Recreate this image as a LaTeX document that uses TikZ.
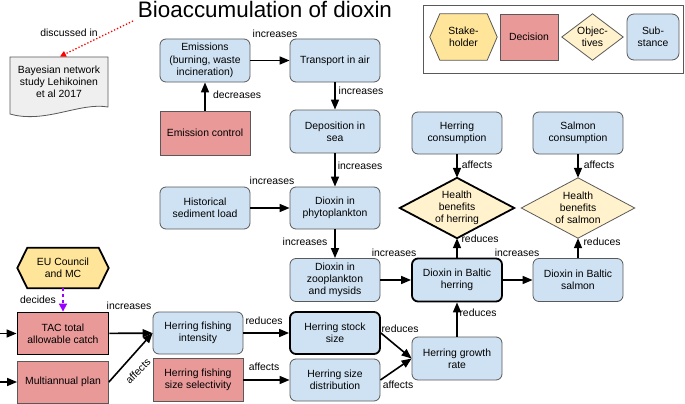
\documentclass[tikz,border=0pt]{standalone}
\usepackage{fontspec}
\setmainfont{Liberation Sans}
\usetikzlibrary{arrows.meta,backgrounds}
\definecolor{cSub}{HTML}{CFE2F3}
\definecolor{cDec}{HTML}{EA9999}
\definecolor{cStk}{HTML}{FFE599}
\definecolor{cObj}{HTML}{FFF2CC}
\definecolor{cDoc}{HTML}{EFEFEF}
\definecolor{cBord}{HTML}{595959}
\definecolor{cPurp}{HTML}{9900FF}
\tikzset{
  txt/.style={font=\fontsize{10.4}{12.2}\selectfont, align=center, text=black},
  lab/.style={txt, inner sep=0pt},
  base/.style={txt, minimum width=90pt, minimum height=43pt, inner sep=1pt},
  subbox/.style={base, draw=cBord, line width=0.8pt, fill=cSub, rounded corners=6pt},
  subthick/.style={subbox, draw=black, line width=1.8pt},
  decbox/.style={base, draw=cBord, line width=0.8pt, fill=cDec},
  decthick/.style={decbox, draw=black, line width=1.8pt},
  shapebox/.style={txt, inner sep=0pt},
  arr/.style={line width=1.6pt, -{Triangle[length=10pt,width=8pt]}},
  thinline/.style={draw=cBord, line width=0.8pt},
  thickline/.style={draw=black, line width=1.8pt},
}
\begin{document}
\begin{tikzpicture}[x=1pt,y=-1pt]
\useasboundingbox (0,0) rectangle (685,404);

% title
\node[txt, font=\fontsize{22.4}{24}\selectfont, anchor=base, inner sep=0pt] (title) at (265,17.5) {Bioaccumulation of dioxin};

% legend
\draw[draw=cBord, line width=0.8pt] (423,5) rectangle (683.5,73);
\node[shapebox, minimum width=67pt, minimum height=46pt] (lstk) at (463.5,37) {Stake-\\holder};
\node[decbox, minimum width=58pt, minimum height=46pt] (ldec) at (529,37) {Decision};
\node[shapebox, minimum width=61pt, minimum height=46pt] (lobj) at (592.5,37) {Objec-\\tives};
\node[subbox, minimum width=52pt, minimum height=46pt, rounded corners=7pt] (lsub) at (653,37) {Sub-\\stance};

% document
\node[shapebox, minimum width=98pt, minimum height=50pt] (doc) at (59,82) {Bayesian network\\study Lehikoinen\\et al 2017};

% substances and decisions
\node[subbox] (emis) at (205,60.5) {Emissions\\(burning, waste\\incineration)};
\node[subbox] (trans) at (335,60.5) {Transport in air};
\node[decbox, minimum height=44pt] (ctrl) at (205,133) {Emission control};
\node[subbox] (depo) at (335,131.5) {Deposition in\\sea};
\node[subbox, minimum height=42pt] (hist) at (205,208) {Historical\\sediment load};
\node[subbox, minimum height=42pt] (phyto) at (335,208) {Dioxin in\\phytoplankton};
\node[subbox] (zoo) at (335,280) {Dioxin in\\zooplankton\\and mysids};
\node[subthick] (herr) at (457,280) {Dioxin in Baltic\\herring};
\node[subbox] (salm) at (578,280) {Dioxin in Baltic\\salmon};
\node[subbox, minimum height=42pt] (hcons) at (457,133) {Herring\\consumption};
\node[subbox, minimum height=42pt] (scons) at (578,133) {Salmon\\consumption};
\node[shapebox, minimum width=114pt, minimum height=60pt] (hh) at (457,208) {Health\\benefits\\of herring};
\node[shapebox, minimum width=113pt, minimum height=60pt] (hs) at (578,208) {Health\\benefits\\of salmon};
\node[subbox] (growth) at (457,358.5) {Herring growth\\rate};
\node[subthick, minimum height=42pt] (stock) at (335,333) {Herring stock\\size};
\node[subbox, minimum height=42pt] (dist) at (335,380) {Herring size\\distribution};
\node[subbox, minimum height=42pt] (inten) at (198,333) {Herring fishing\\intensity};
\node[decbox] (sel) at (198,380) {Herring fishing\\size selectivity};
\node[decthick, minimum width=91pt, minimum height=42pt] (tac) at (63,333.5) {TAC total\\allowable catch};
\node[decbox, minimum width=91pt, minimum height=42pt] (multi) at (63,382) {Multiannual plan};
\node[shapebox, minimum width=91pt, minimum height=40pt] (eu) at (63,268) {EU Council\\and MC};

% custom outlines on background
\begin{scope}[on background layer]
  \filldraw[fill=cStk, thinline] (lstk.west) -- ([xshift=10pt]lstk.north west) -- ([xshift=-10pt]lstk.north east) -- (lstk.east) -- ([xshift=-10pt]lstk.south east) -- ([xshift=10pt]lstk.south west) -- cycle;
  \filldraw[fill=cObj, thinline] (lobj.north) -- (lobj.east) -- (lobj.south) -- (lobj.west) -- cycle;
  \filldraw[fill=cStk, thickline] (eu.west) -- ([xshift=10pt]eu.north west) -- ([xshift=-10pt]eu.north east) -- (eu.east) -- ([xshift=-10pt]eu.south east) -- ([xshift=10pt]eu.south west) -- cycle;
  \filldraw[fill=cObj, thickline] (hh.north) -- (hh.east) -- (hh.south) -- (hh.west) -- cycle;
  \filldraw[fill=cObj, thinline] (hs.north) -- (hs.east) -- (hs.south) -- (hs.west) -- cycle;
  \filldraw[fill=cDoc, thinline] (10,57) -- (108,57) -- (108,107) .. controls (80,102) and (45,124) .. (10,114) -- cycle;
\end{scope}

% free ends
\coordinate (src1) at (133,21);
\coordinate (in1) at (0,333.5);
\coordinate (in2) at (0,382);

% connectors
\draw[red, dotted, line width=1.3pt, -{Triangle[length=6pt,width=6pt]}] (src1) -- (60,56.5);
\draw[arr] (emis) -- (trans);
\draw[arr] (ctrl) -- (emis);
\draw[arr] (trans) -- (depo);
\draw[arr] (depo) -- (phyto);
\draw[arr] (hist) -- (phyto);
\draw[arr] (phyto) -- (zoo);
\draw[arr] (zoo) -- (herr);
\draw[arr] (herr) -- (salm);
\draw[arr] (herr) -- (hh.south);
\draw[arr] (salm) -- (hs.south);
\draw[arr] (hcons) -- (hh.north);
\draw[arr] (scons) -- (hs.north);
\draw[arr] (growth) -- (herr);
\draw[arr] (stock.east) -- (growth.west);
\draw[arr] (dist.east) -- (growth.west);
\draw[arr] (tac) -- (inten);
\draw[arr] (multi.east) -- (inten.west);
\draw[arr] (sel) -- (dist);
\draw[arr] (inten) -- (stock);
\draw[arr] (in1) -- (tac);
\draw[arr] (in2) -- (multi);
\draw[cPurp, dashed, line width=1.6pt, -{Triangle[length=8pt,width=8pt]}] (eu.south) -- (tac.north);

% labels
\node[lab] (l1) at (69,33) {discussed in};
\node[lab] (l2) at (275,33.5) {increases};
\node[lab] (l3) at (237,95) {decreases};
\node[lab] (l4) at (361,91) {increases};
\node[lab] (l5) at (360,166) {increases};
\node[lab] (l6) at (272,181) {increases};
\node[lab] (l7) at (305,242) {increases};
\node[lab] (l8) at (394,253) {increases};
\node[lab] (l9) at (38,300) {decides};
\node[lab] (l10) at (129,306) {increases};
\node[lab, rotate=45] (l11) at (138,371) {affects};
\node[lab] (l12) at (264,321) {reduces};
\node[lab] (l13) at (264,367) {affects};
\node[lab] (l14) at (400,329) {reduces};
\node[lab] (l15) at (398,385) {affects};
\node[lab] (l16) at (478,313) {reduces};
\node[lab] (l17) at (480,239) {reduces};
\node[lab] (l18) at (517,253) {increases};
\node[lab] (l19) at (602,242) {reduces};
\node[lab] (l20) at (477,165) {affects};
\node[lab] (l21) at (599,165) {affects};
\end{tikzpicture}
\end{document}
